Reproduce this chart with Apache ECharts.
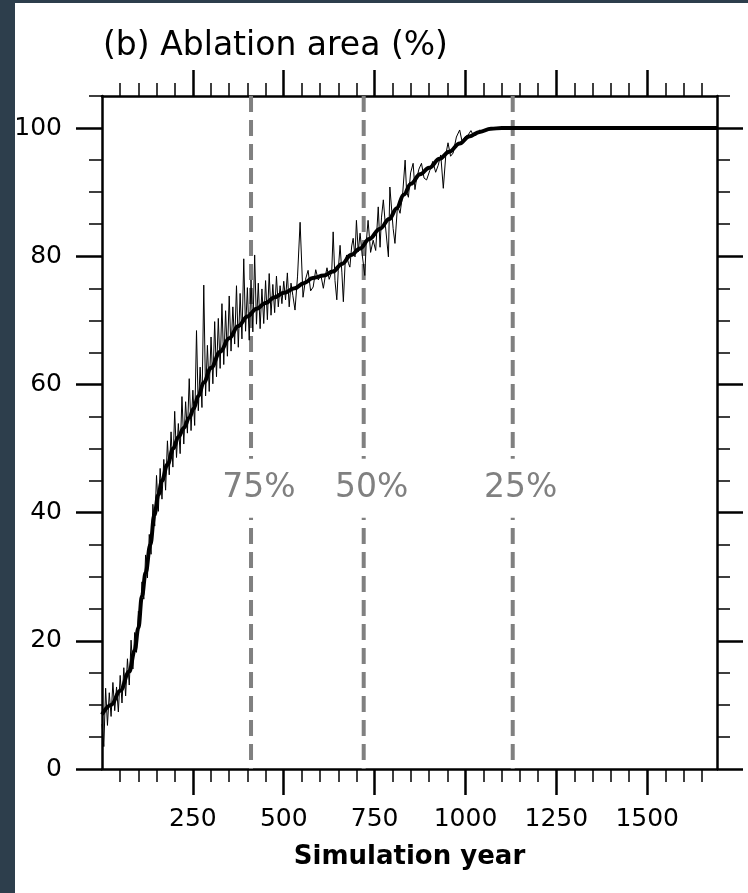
<!DOCTYPE html>
<html><head><meta charset="utf-8">
<script src="https://cdn.jsdelivr.net/npm/echarts@6/dist/echarts.min.js"></script>
<style>
html,body{margin:0;padding:0;background:#2d3e4c;width:748px;height:893px;overflow:hidden}
#chart{position:absolute;left:15px;top:3px;width:733px;height:890px;background:#fff}
</style></head><body><div id="chart"></div>
<script>
// ---- data ----
const titleText = '(b) Ablation area (%)';
const xName = 'Simulation year';
const X_MIN = 0, X_MAX = 1692;
const Y_MIN = 0, Y_MAX = 105;
const xMajor = [250, 500, 750, 1000, 1250, 1500];
const xMinor = [50,100,150,200,300,350,400,450,550,600,650,700,800,850,900,950,1050,1100,1150,1200,1300,1350,1400,1450,1550,1600,1650];
const yMajor = [0, 20, 40, 60, 80, 100];
const yMinor = [5,10,15,25,30,35,45,50,55,65,70,75,85,90,95,105];

const vlineYears = [410, 720, 1130];
const vlineLabels = ['75%', '50%', '25%'];
const vlineLabelY = 43.8;

const noisyYears = [0,5,10,15,20,25,30,35,40,45,50,55,60,65,70,75,80,85,90,95,
  100,105,110,115,120,125,130,135,140,145,150,155,160,165,170,175,180,185,190,195,
  200,205,210,215,220,225,230,235,240,245,250,255,260,265,270,275,280,285,290,295,
  300,305,310,315,320,325,330,335,340,345,350,355,360,365,370,375,380,385,390,395,
  400,405,410,415,420,425,430,435,440,445,450,455,460,465,470,475,480,485,490,495,
  500,505,510,515,520,525,531,538,545,553,560,567,574,581,588,595,602,609,614,619,
  625,632,636,641,646,650,655,660,664,669,673,678,682,687,691,696,700,705,710,716,
  723,727,732,739,746,753,760,765,769,774,780,788,792,797,801,806,813,820,827,834,
  838,843,849,856,861,865,872,879,886,893,902,910,918,925,932,939,946,952,959,966,
  975,984,991,998,1007,1015,1022,1030,1039,1048,1058,1068,1080,1100,1692];
const noisyVals = [7.0,3.5,12.6,6.8,11.9,8.2,13.5,9.1,12.8,8.9,14.6,10.3,15.8,11.4,17.2,13.1,20.1,15.6,21.3,18.2,
  24.6,23.1,29.2,26.5,33.4,29.8,36.6,33.5,41.3,37.9,45.8,40.2,46.9,42.1,48.3,43.5,51.2,45.9,52.6,47.1,
  55.8,48.6,53.9,49.2,58.1,50.7,57.3,52.4,60.9,52.8,59.1,53.6,68.4,55.9,62.7,56.4,75.5,58.2,66.1,58.9,
  67.4,60.1,69.8,61.2,70.3,62.5,72.6,63.1,71.5,64.4,73.8,65.2,72.1,66.3,75.4,65.8,74.2,67.1,79.6,68.3,
  75.1,66.9,76.3,68.2,80.2,69.4,75.8,68.7,74.9,69.5,76.2,70.1,77.3,70.8,75.6,71.2,76.9,72.1,75.4,72.6,
  76.1,73.2,77.4,72.1,75.8,73.9,71.6,76.9,85.3,73.6,76.4,77.8,74.6,75.2,77.9,76.3,77.1,75.0,76.8,78.2,
  76.4,77.5,83.8,76.2,73.2,77.8,81.7,77.4,72.9,79.1,80.2,78.9,78.3,81.6,82.8,79.9,85.6,80.7,83.6,80.2,
  77.0,82.1,85.6,80.6,82.5,80.9,87.7,81.4,86.1,88.8,84.6,79.9,90.8,87.2,84.3,82.0,87.9,86.7,89.6,95.0,
  90.1,89.2,93.0,94.5,90.4,91.9,93.6,94.5,92.2,91.9,93.4,94.8,93.1,94.2,95.8,90.6,95.9,97.7,95.6,96.1,
  98.6,99.7,97.8,98.6,98.9,99.6,98.8,98.9,99.7,99.4,99.7,99.8,100,100,100];

const smoothYears = [0,25,50,75,90,100,110,120,133,144,155,165,180,196,210,225,240,252,265,280,
  300,325,350,375,400,425,450,475,500,530,555,580,610,635,660,685,710,735,765,790,
  811,830,850,875,900,929,955,984,1010,1039,1070,1100,1692];
const smoothVals = [8.5,10,12.2,15.2,18.5,22,27,30.6,35,39.6,42.8,45,47.5,50,51.8,53.2,54.8,56.2,58.2,60.3,
  62.6,65.1,67.2,69.1,70.6,71.8,72.7,73.6,74.3,75.0,75.8,76.6,77.0,77.6,78.8,80.2,81.2,82.7,84.3,85.8,
  87.5,89.6,91.3,92.8,93.8,95.2,96.3,97.6,98.7,99.4,99.9,100,100];

// ---- chart ----
const FONT = 'DejaVu Sans';
const chart = echarts.init(document.getElementById('chart'), null, {renderer: 'canvas'});

function mkAxis(kind, pos, ticks, len, w, withLine, withLabels, extra) {
  const a = {
    type: 'value', position: pos,
    min: kind === 'x' ? X_MIN : Y_MIN,
    max: kind === 'x' ? X_MAX : Y_MAX,
    axisLine: {show: withLine, onZero: false, lineStyle: {color: '#000', width: 2.5}},
    axisTick: {show: true, customValues: ticks, length: len, lineStyle: {color: '#000', width: w}},
    axisLabel: withLabels ? {show: true, customValues: ticks, fontSize: 25, color: '#000', fontFamily: FONT,
                             margin: kind === 'x' ? 38 : 40, formatter: function (v) { return String(v); }}
                          : {show: false},
    splitLine: {show: false}
  };
  return Object.assign(a, extra || {});
}

const xAxes = [
  mkAxis('x', 'bottom', xMajor, 26, 2.5, true, true, {
    name: xName, nameLocation: 'middle', nameGap: 75,
    nameTextStyle: {fontSize: 26, fontWeight: 'bold', color: '#000', fontFamily: FONT}
  }),
  mkAxis('x', 'bottom', xMinor, 13, 1.5, false, false),
  mkAxis('x', 'top', xMajor, 26, 2.5, true, false),
  mkAxis('x', 'top', xMinor, 13, 1.5, false, false)
];
const yAxes = [
  mkAxis('y', 'left', yMajor, 26, 2.5, true, true),
  mkAxis('y', 'left', yMinor, 13, 1.5, false, false),
  mkAxis('y', 'right', yMajor, 26, 2.5, true, false),
  mkAxis('y', 'right', yMinor, 13, 1.5, false, false)
];

const series = [];
vlineYears.forEach(function (yr) {
  series.push({
    type: 'line', data: [[yr, Y_MAX], [yr, Y_MIN]], symbol: 'none', silent: true, z: 1,
    lineStyle: {color: '#808080', width: 4, type: [16, 8]}
  });
});
series.push({
  type: 'scatter', z: 2, silent: true, symbol: 'circle', symbolSize: 1,
  itemStyle: {color: 'rgba(0,0,0,0)', opacity: 1},
  data: vlineYears.map(function (yr, i) { return {value: [yr, vlineLabelY], name: vlineLabels[i]}; }),
  label: {show: true, position: 'inside', formatter: '{b}', offset: [8, 0], opacity: 1,
    fontSize: 33, fontFamily: FONT, color: '#808080', backgroundColor: '#fff', padding: [13, 6]}
});
series.push({
  type: 'line', z: 3, symbol: 'none', sampling: null,
  data: noisyYears.map(function (yr, i) { return [yr, noisyVals[i]]; }),
  lineStyle: {color: '#000', width: 1}
});
series.push({
  type: 'line', z: 4, symbol: 'none', smooth: 0.4, smoothMonotone: 'x',
  data: smoothYears.map(function (yr, i) { return [yr, smoothVals[i]]; }),
  lineStyle: {color: '#000', width: 4}
});

chart.setOption({
  animation: false,
  backgroundColor: '#fff',
  textStyle: {fontFamily: FONT},
  title: {text: titleText, left: 88, top: 27, padding: 0,
    textStyle: {fontSize: 33, fontWeight: 'normal', color: '#000', fontFamily: FONT}},
  grid: {left: 87, top: 93, right: 31, bottom: 124, containLabel: false, outerBoundsMode: 'none'},
  xAxis: xAxes,
  yAxis: yAxes,
  series: series
});
</script></body></html>
